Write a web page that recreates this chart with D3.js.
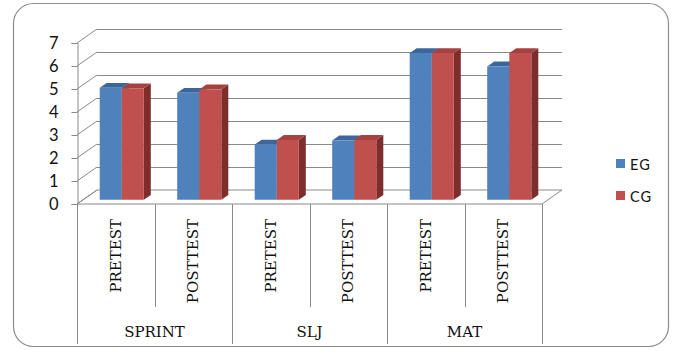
<!DOCTYPE html>
<html>
<head>
<meta charset="utf-8">
<script src="https://cdn.jsdelivr.net/npm/d3@7"></script>
<style>
  body { margin: 0; background: #fff; }
  svg { display: block; }
</style>
</head>
<body>
<svg id="chart"></svg>
<script>
// data
const groups = ["SPRINT", "SLJ", "MAT"];
const phases = ["PRETEST", "POSTTEST"];
const series = ["EG", "CG"];
const egValues = [4.87, 4.65, 2.4, 2.58, 6.38, 5.8];
const cgValues = [4.85, 4.8, 2.6, 2.6, 6.38, 6.38];
const yTicks = [0, 1, 2, 3, 4, 5, 6, 7];

const colors = {
    EG: { front: "#4f81bd", top: "#3c679c", side: "#2f5580" },
    CG: { front: "#c0504d", top: "#a5423f", side: "#7d2e2c" }
};

const width = 674, height = 351;
const depth = { dx: 20, dy: -14 }; // depth of the 3d walls
const barFront = 0.3, barBack = 0.65; // bars sit inside the depth

const svg = d3.select("#chart").attr("width", width).attr("height", height);

// outer frame
svg.append("rect")
    .attr("x", 13.5).attr("y", 3.5)
    .attr("width", 655).attr("height", 343)
    .attr("rx", 20).attr("ry", 20)
    .attr("fill", "#fff")
    .attr("stroke", "#8c8c8c")
    .attr("stroke-width", 1.2);

// one slot per group/phase pair
const slots = [];
groups.forEach(g => phases.forEach(p => slots.push(g + "|" + p)));

const x0 = d3.scaleBand().domain(slots).range([77, 542]);
const x1 = d3.scaleBand().domain(series).range([0, x0.bandwidth()])
    .paddingInner(0).paddingOuter(0.76);
const y = d3.scaleLinear().domain([0, 7]).range([204, 43]);

const data = slots.map((s, i) => ({ slot: s, EG: egValues[i], CG: cgValues[i] }));

const gridColor = "#8a8a8a";

// floor
const x0L = x0.range()[0], x0R = x0.range()[1];
svg.append("polygon")
    .attr("points", [
        [x0L, y(0)], [x0R, y(0)],
        [x0R + depth.dx, y(0) + depth.dy], [x0L + depth.dx, y(0) + depth.dy]
    ].map(p => p.join(",")).join(" "))
    .attr("fill", "#fff")
    .attr("stroke", gridColor)
    .attr("stroke-width", 1);

// back wall gridlines + left wall diagonals
const grid = svg.append("g").attr("stroke", gridColor).attr("fill", "none");
yTicks.forEach(v => {
    if (v > 0) {
        grid.append("line")
            .attr("x1", x0L + depth.dx).attr("x2", x0R + depth.dx)
            .attr("y1", y(v) + depth.dy + 0.5).attr("y2", y(v) + depth.dy + 0.5);
    }
    grid.append("line")
        .attr("x1", x0L).attr("y1", y(v))
        .attr("x2", x0L + depth.dx).attr("y2", y(v) + depth.dy);
});

// y axis
const yAxis = svg.append("g")
    .attr("transform", `translate(${x0L + 0.5},0)`)
    .call(d3.axisLeft(y).tickValues(yTicks).tickSize(6).tickPadding(13).tickFormat(d3.format("d")));
yAxis.select(".domain").attr("stroke", gridColor);
yAxis.selectAll(".tick line").attr("stroke", gridColor);
yAxis.selectAll(".tick text")
    .attr("font-family", "Lato, 'Open Sans', sans-serif")
    .attr("font-size", 16.5)
    .attr("fill", "#111");

// bars
function pt(x, v, f) {
    return [x + f * depth.dx, y(v) + f * depth.dy];
}
function poly(points) {
    return points.map(p => p[0].toFixed(1) + "," + p[1].toFixed(1)).join(" ");
}

const bars = svg.append("g");
data.forEach(d => {
    series.forEach(s => {
        const xl = x0(d.slot) + x1(s);
        const xr = xl + x1.bandwidth();
        const v = d[s];
        const c = colors[s];
        const g = bars.append("g");
        // side face
        g.append("polygon")
            .attr("points", poly([pt(xr, 0, barFront), pt(xr, 0, barBack), pt(xr, v, barBack), pt(xr, v, barFront)]))
            .attr("fill", c.side);
        // top face
        g.append("polygon")
            .attr("points", poly([pt(xl, v, barFront), pt(xr, v, barFront), pt(xr, v, barBack), pt(xl, v, barBack)]))
            .attr("fill", c.top);
        // front face
        g.append("polygon")
            .attr("points", poly([pt(xl, 0, barFront), pt(xr, 0, barFront), pt(xr, v, barFront), pt(xl, v, barFront)]))
            .attr("fill", c.front);
    });
});

// category label grid below the axis
const labelLines = svg.append("g").attr("stroke", gridColor);
slots.forEach((s, i) => {
    const xb = Math.round(x0(s)) + 0.5;
    const isGroupEdge = i % phases.length === 0;
    labelLines.append("line")
        .attr("x1", xb).attr("x2", xb)
        .attr("y1", y(0)).attr("y2", isGroupEdge ? 344 : 307);
});
labelLines.append("line")
    .attr("x1", Math.round(x0R) + 0.5).attr("x2", Math.round(x0R) + 0.5)
    .attr("y1", y(0)).attr("y2", 344);

const serif = "'DejaVu Serif', 'Liberation Serif', serif";

// phase labels, rotated
svg.append("g")
    .selectAll("text")
    .data(slots)
    .join("text")
    .attr("transform", s => `translate(${x0(s) + x0.bandwidth() / 2 + 5},219) rotate(-90)`)
    .attr("text-anchor", "end")
    .attr("font-family", serif)
    .attr("font-size", 15)
    .attr("fill", "#111")
    .text(s => s.split("|")[1]);

// group labels
const groupWidth = x0.step() * phases.length;
svg.append("g")
    .selectAll("text")
    .data(groups)
    .join("text")
    .attr("x", (g, i) => x0L + groupWidth * i + groupWidth / 2)
    .attr("y", 337)
    .attr("text-anchor", "middle")
    .attr("font-family", serif)
    .attr("font-size", 15)
    .attr("fill", "#111")
    .text(g => g);

// legend
const legend = svg.append("g")
    .selectAll("g")
    .data(series)
    .join("g")
    .attr("transform", (s, i) => `translate(616,${159 + i * 32})`);
legend.append("rect")
    .attr("width", 9).attr("height", 9)
    .attr("fill", s => colors[s].front);
legend.append("text")
    .attr("x", 14).attr("y", 10.5)
    .attr("font-family", "Lato, 'Open Sans', sans-serif")
    .attr("font-size", 14.5)
    .attr("letter-spacing", 1)
    .attr("fill", "#111")
    .text(s => s);
</script>
</body>
</html>
